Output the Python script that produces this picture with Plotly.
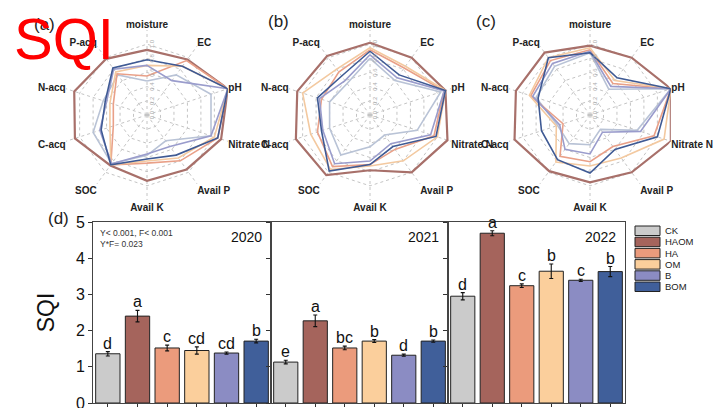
import plotly.graph_objects as go

W, H = 715, 408
FONT = "Liberation Sans, Arial, sans-serif"

# ---------------- data ----------------
radar_axes = ["moisture", "EC", "pH", "Nitrate N", "Avail P", "Avail K",
              "SOC", "C-acq", "N-acq", "P-acq"]
treatments = ["CK", "HAOM", "HA", "OM", "B", "BOM"]
bar_colors = ["#cbcbcb", "#a5645c", "#eb9b7c", "#fbcf9c", "#8b8cc3", "#405f9a"]
line_colors = ["#b9c3d6", "#a8706a", "#e9a088", "#f3c9a0", "#9a9ccc", "#3f5a94"]

# radar values per treatment (order of treatments), order of radar_axes
radar_a = [
    [0.48, 0.70, 0.95, 0.95, 0.45, 0.57, 0.85, 0.80, 0.65, 0.70],   # CK
    [0.92, 0.97, 1.20, 1.10, 0.95, 0.93, 0.88, 1.07, 1.08, 0.98],   # HAOM
    [0.55, 0.95, 1.20, 1.05, 0.80, 0.68, 0.87, 0.50, 0.50, 0.72],   # HA
    [0.70, 0.85, 1.20, 1.00, 0.75, 0.65, 0.87, 0.55, 0.55, 0.75],   # OM
    [0.70, 0.60, 1.20, 0.95, 0.55, 0.55, 0.85, 0.70, 0.60, 0.80],   # B
    [0.78, 0.85, 1.20, 1.05, 0.70, 0.62, 0.87, 0.68, 0.62, 0.82],   # BOM
]
radar_b = [
    [0.80, 0.60, 1.05, 0.70, 0.35, 0.45, 0.70, 0.60, 0.60, 0.55],
    [1.02, 1.00, 1.12, 1.15, 1.00, 0.78, 1.05, 1.10, 1.08, 1.03],
    [0.92, 0.82, 1.10, 0.95, 0.60, 0.70, 0.90, 0.78, 0.72, 0.75],
    [0.95, 0.85, 1.12, 1.00, 0.80, 0.72, 0.95, 0.88, 1.00, 0.80],
    [0.85, 0.65, 1.10, 0.90, 0.50, 0.65, 0.85, 0.70, 0.75, 0.60],
    [0.90, 0.70, 1.12, 0.98, 0.55, 0.70, 0.98, 0.72, 0.78, 0.68],
]
radar_c = [
    [0.88, 0.45, 1.20, 0.70, 0.25, 0.42, 0.50, 0.48, 0.80, 0.85],
    [0.98, 1.00, 1.20, 1.20, 1.00, 0.95, 0.98, 1.12, 1.10, 1.09],
    [0.92, 0.55, 1.20, 0.95, 0.55, 0.66, 0.72, 0.40, 0.88, 0.95],
    [0.95, 0.60, 1.20, 1.10, 0.75, 0.72, 0.82, 0.50, 0.90, 1.00],
    [0.90, 0.50, 1.20, 0.75, 0.30, 0.55, 0.60, 0.45, 0.85, 0.90],
    [0.88, 0.65, 1.20, 1.00, 0.60, 0.82, 0.78, 0.72, 0.77, 1.00],
]
radar_ticks = [0.0, 0.2, 0.4, 0.6, 0.8, 1.0]

years = ["2020", "2021", "2022"]
sqi_2020 = [1.36, 2.40, 1.52, 1.45, 1.38, 1.71]
err_2020 = [0.06, 0.16, 0.08, 0.10, 0.03, 0.05]
let_2020 = ["d", "a", "c", "cd", "cd", "b"]
sqi_2021 = [1.13, 2.27, 1.52, 1.71, 1.32, 1.71]
err_2021 = [0.05, 0.16, 0.05, 0.04, 0.03, 0.03]
let_2021 = ["e", "a", "bc", "b", "d", "b"]
sqi_2022 = [2.95, 4.69, 3.24, 3.64, 3.39, 3.63]
err_2022 = [0.10, 0.07, 0.05, 0.20, 0.03, 0.14]
let_2022 = ["d", "a", "c", "b", "c", "b"]
stats_text = "Y< 0.001, F< 0.001<br>Y*F= 0.023"

# ---------------- figure ----------------
fig = go.Figure()
layout = dict(width=W, height=H,
              margin=dict(l=0, r=0, t=0, b=0, autoexpand=False),
              paper_bgcolor="white", plot_bgcolor="white",
              font=dict(family=FONT, color="#111"), showlegend=False)

def px_x(x):
    return x / W

def px_y(y):
    return 1 - y / H

R = 85  # outer radius in px
radar_centers = [147, 370, 590]
cy = 115
for i, data in enumerate([radar_a, radar_b, radar_c]):
    pname = "polar" if i == 0 else f"polar{i+1}"
    for t, vals, col in zip(treatments, data, line_colors):
        fig.add_trace(go.Scatterpolar(
            r=vals + [vals[0]], theta=radar_axes + [radar_axes[0]],
            mode="lines", name=t, subplot=pname,
            line=dict(color=col, width=2.2 if t == "HAOM" else 1.6)))
    cx = radar_centers[i]
    layout[pname] = dict(
        domain=dict(x=[px_x(cx - R), px_x(cx + R)], y=[px_y(cy + R), px_y(cy - R)]),
        gridshape="linear", bgcolor="rgba(0,0,0,0)",
        radialaxis=dict(range=[0, 1.2], tickvals=radar_ticks,
                        ticktext=[f"{v:.1f}" for v in radar_ticks],
                        angle=90, tickangle=0, showline=False, ticks="",
                        gridcolor="#c4c4c4", griddash="dot",
                        tickfont=dict(size=6, color="#aaaaaa")),
        angularaxis=dict(direction="clockwise", rotation=90, showline=False,
                         ticks="", gridcolor="#c4c4c4", griddash="dot",
                         categoryorder="array", categoryarray=radar_axes,
                         tickfont=dict(size=10, color="#222", weight="bold")),
    )

# bar panels
x_edges = [93, 271, 448, 625]
y_top, y_bot = 222, 403
annotations = []
bar_sets = [(sqi_2020, err_2020, let_2020), (sqi_2021, err_2021, let_2021),
            (sqi_2022, err_2022, let_2022)]
for i, (vals, errs, lets) in enumerate(bar_sets):
    sfx = "" if i == 0 else str(i + 1)
    fig.add_trace(go.Bar(
        x=treatments, y=vals, width=0.82, xaxis="x" + sfx, yaxis="y" + sfx,
        marker=dict(color=bar_colors, line=dict(color="#222", width=1)),
        error_y=dict(type="data", array=errs, color="#111", thickness=1.1, width=2),
        showlegend=False))
    layout["xaxis" + sfx] = dict(
        domain=[px_x(x_edges[i]), px_x(x_edges[i + 1])], anchor="y" + sfx,
        range=[-0.5, 5.5], showticklabels=False, ticks="outside", ticklen=3,
        tickcolor="#333", showline=True, linecolor="#444", linewidth=1,
        mirror=True, showgrid=False, zeroline=False, fixedrange=True,
        automargin=False)
    layout["yaxis" + sfx] = dict(
        domain=[px_y(y_bot), px_y(y_top)], anchor="x" + sfx, range=[0, 5],
        dtick=1, ticks="outside", ticklen=4, tickcolor="#333",
        showticklabels=(i == 0), tickfont=dict(size=16, color="#111"),
        ticklabeloverflow="allow", automargin=False,
        showline=True, linecolor="#444", linewidth=1, mirror=True,
        showgrid=False, zeroline=False)
    for t, v, e, l in zip(treatments, vals, errs, lets):
        annotations.append(dict(x=t, y=v + e, xref="x" + sfx, yref="y" + sfx,
                                text=l, showarrow=False, yanchor="bottom",
                                yshift=-2, font=dict(size=16, color="#111")))
    annotations.append(dict(x=0.96, y=0.975, xref=f"x{sfx} domain",
                            yref=f"y{sfx} domain", text=years[i],
                            showarrow=False, xanchor="right", yanchor="top",
                            font=dict(size=14, color="#111")))

layout["yaxis"]["title"] = dict(text="SQI", font=dict(size=23, color="#111"),
                                standoff=14)

annotations.append(dict(x=px_x(98), y=px_y(226), xref="paper", yref="paper",
                        text=stats_text, showarrow=False, xanchor="left",
                        yanchor="top", align="left",
                        font=dict(size=8.5, color="#333")))

# panel labels
for txt, x, y in [("(a)", 44, 24), ("(b)", 278, 21), ("(c)", 486, 21), ("(d)", 58, 218)]:
    annotations.append(dict(x=px_x(x), y=px_y(y), xref="paper", yref="paper",
                            text=txt, showarrow=False, xanchor="center",
                            yanchor="middle", font=dict(size=17, color="#222")))

# legend (manual, built from treatments/colors)
shapes = []
leg_x0, leg_x1 = 635, 660
leg_y0, pitch, sh = 226, 11.2, 9.5
for k, (t, c) in enumerate(zip(treatments, bar_colors)):
    ytop = leg_y0 + k * pitch
    shapes.append(dict(type="rect", xref="paper", yref="paper",
                       x0=px_x(leg_x0), x1=px_x(leg_x1),
                       y0=px_y(ytop + sh), y1=px_y(ytop),
                       fillcolor=c, line=dict(color="#222", width=1)))
    annotations.append(dict(x=px_x(663), y=px_y(ytop + sh / 2), xref="paper",
                            yref="paper", text=t, showarrow=False,
                            xanchor="left", yanchor="middle",
                            font=dict(size=9.5, color="#222")))

# big red overlay title
annotations.append(dict(x=px_x(12), y=px_y(4), xref="paper", yref="paper",
                        text="SQI", showarrow=False, xanchor="left",
                        yanchor="top", font=dict(size=58, color="#ff0000")))

layout["annotations"] = annotations
layout["shapes"] = shapes
fig.update_layout(**layout)
fig.write_html("out.html", config={"displayModeBar": False},
               post_script="document.body.style.margin='0';"
                           "document.body.style.overflow='hidden';")
